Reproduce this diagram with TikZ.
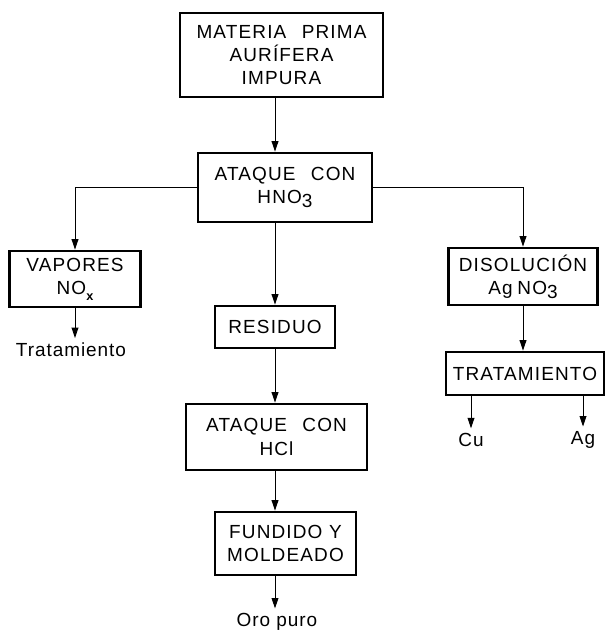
\documentclass[tikz,border=0pt]{standalone}
\usepackage{fontspec}
\setmainfont{Liberation Sans}
\newfontfamily\boxfont[LetterSpace=6, WordSpace=2.4]{Liberation Sans}
\newfontfamily\labfont[LetterSpace=5]{Liberation Sans}
\usetikzlibrary{arrows.meta}

\newcommand{\sub}[1]{\raisebox{-0.4ex}{#1}}  % lowered index, e.g. HNO3

\begin{document}
\begin{tikzpicture}[x=0.025cm, y=-0.025cm,  % one unit = one pixel of the reference, y downwards
    box/.style={draw, line width=2pt, align=center, inner sep=0pt,
                font=\boxfont\fontsize{13.5}{16.5}\selectfont},
    lab/.style={font=\labfont\fontsize{13.5}{15}\selectfont},
    arr/.style={line width=0.7pt, -{Triangle[length=2.6mm,width=1.7mm]}}]
    \useasboundingbox (0,0) rectangle (605,632);  % Fixes the page to the reference size

    % Nodes (sizes: reference pixels x 0.025cm)
    \node[box, minimum width=5.075cm, minimum height=2.1cm] (mat) at (281.5,55) {MATERIA PRIMA\\AUR\'IFERA\\IMPURA};  % Raw material box
    \node[box, minimum width=4.35cm, minimum height=1.725cm] (hno) at (285,187.5) {ATAQUE CON\\HNO\sub{3}};  % Nitric attack
    \node[box, minimum width=3.275cm, minimum height=1.4cm] (vap) at (75,279) {VAPORES\\NO\raisebox{-0.6ex}{\small\bfseries x}};  % Vapours
    \node[box, minimum width=3.725cm, minimum height=1.425cm] (dis) at (523,276.5) {DISOLUCI\'ON\\Ag\hspace{0.25em}NO\sub{3}};  % Solution
    \node[box, minimum width=3.95cm, minimum height=1.075cm] (tra) at (525,373.5) {TRATAMIENTO};  % Treatment of solution
    \node[box, minimum width=3cm, minimum height=1.05cm] (res) at (275,327) {RESIDUO};  % Residue
    \node[box, minimum width=4.525cm, minimum height=1.65cm] (hcl) at (276.5,437) {ATAQUE CON\\HCl};  % Hydrochloric attack
    \node[box, minimum width=3.525cm, minimum height=1.575cm] (fun) at (285.5,543.5) {FUNDIDO\hspace{0.35em}Y\\MOLDEADO};  % Melting and moulding

    % Free ends
    \node[lab] (trv) at (71,350) {Tratamiento};  % Vapour treatment
    \node[lab] (cu) at (471,440) {Cu};  % Copper
    \node[lab] (ag) at (583,440) {Ag};  % Silver
    \node[lab] (oro) at (277,622) {Oro puro};  % Pure gold

    % Connections
    \draw[arr] (mat.south -| res) -- (hno.north -| res);  % Raw material to attack
    \draw[arr] (hno.west) -| (vap.north);  % Attack to vapours
    \draw[arr] (hno.east) -| (dis.north);  % Attack to solution
    \draw[arr] (hno.south -| res) -- (res.north);  % Attack to residue
    \draw[arr] (vap.south) -- (vap.south |- trv.north);  % Vapours to treatment
    \draw[arr] (dis.south) -- (dis.south |- tra.north);  % Solution to treatment
    \draw[arr] (tra.south -| cu) -- (cu.north);  % Treatment to copper
    \draw[arr] (tra.south -| ag) -- (ag.north);  % Treatment to silver
    \draw[arr] (res.south) -- (res.south |- hcl.north);  % Residue to HCl attack
    \draw[arr] (hcl.south -| res) -- (fun.north -| res);  % HCl attack to melting
    \draw[arr] (fun.south -| res) -- (oro.north -| res);  % Melting to pure gold
\end{tikzpicture}
\end{document}
